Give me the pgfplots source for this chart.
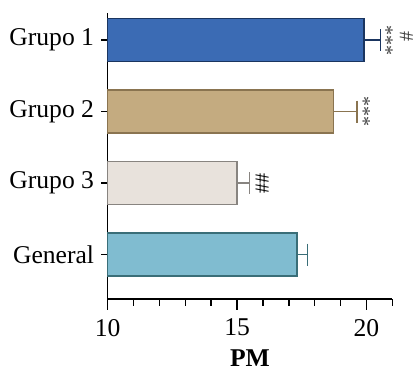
\documentclass[border=0pt]{standalone}
\usepackage{pgfplots}
\pgfplotsset{compat=1.18}
\usepackage{fontspec}
\setmainfont{Liberation Serif}
\definecolor{c1}{HTML}{3B6BB4}
\definecolor{e1}{HTML}{1A3560}
\definecolor{c2}{HTML}{C4AB80}
\definecolor{e2}{HTML}{8A7450}
\definecolor{c3}{HTML}{E8E2DC}
\definecolor{e3}{HTML}{888480}
\definecolor{c4}{HTML}{80BCD0}
\definecolor{e4}{HTML}{3A6E78}
\begin{document}
\begin{tikzpicture}
\begin{axis}[
  name=ax,
  at={(0,0)}, anchor=south west,
  scale only axis,
  width=142.3pt, height=143pt,
  xmin=10, xmax=21,
  ymin=-0.62, ymax=3.38,
  axis x line*=bottom, axis y line*=left,
  axis line style={line width=0.7pt},
  xtick={10,11,...,21},
  xticklabels={},
  extra x ticks={10,15,20},
  extra x tick labels={10,15,20},
  extra x tick style={major tick length=5.5pt},
  ytick={0,1,2,3},
  yticklabels={General,Grupo 3,Grupo 2,Grupo 1},
  tick align=outside,
  major tick length=3.3pt,
  tick style={line width=0.7pt, black},
  y tick style={draw=black, line width=0.8pt},
  /pgf/number format/assume math mode=true,
  ticklabel style={font=\fontsize{12.8}{14}\selectfont},
  xticklabel style={yshift=-1pt},
  xlabel={\textbf{PM}},
  xlabel style={font=\fontsize{12.8}{14}\selectfont, yshift=3.5pt},
  xbar, bar width=21.5pt, bar shift=0pt,
  clip=false,
  error bars/x dir=plus, error bars/x explicit,
]
\addplot[fill=c1, draw=e1, line width=0.7pt, error bars/error bar style={e1, line width=0.8pt}, error bars/error mark options={rotate=90, mark size=5.5pt, line width=0.8pt, e1}] coordinates {(19.9,3) +- (0.64,0)};
\addplot[fill=c2, draw=e2, line width=0.7pt, error bars/error bar style={e2, line width=0.8pt}, error bars/error mark options={rotate=90, mark size=5.5pt, line width=0.8pt, e2}] coordinates {(18.73,2) +- (0.91,0)};
\addplot[fill=c3, draw=e3, line width=0.7pt, error bars/error bar style={e3, line width=0.8pt}, error bars/error mark options={rotate=90, mark size=5.5pt, line width=0.8pt, e3}] coordinates {(15.0,1) +- (0.48,0)};
\addplot[fill=c4, draw=e4, line width=0.7pt, error bars/error bar style={e4, line width=0.8pt}, error bars/error mark options={rotate=90, mark size=5.5pt, line width=0.8pt, e4}] coordinates {(17.32,0) +- (0.41,0)};
\node[rotate=-90, font=\fontsize{10}{10}\selectfont, inner sep=0pt, text=black!75] at (axis cs:20.76,3) {***};
\node[rotate=-90, font=\fontsize{10}{10}\selectfont, inner sep=0pt, text=black!75] at (axis cs:21.55,3.05) {\#};
\node[rotate=-90, font=\fontsize{10}{10}\selectfont, inner sep=0pt, text=black!75] at (axis cs:19.88,2) {***};
\node[rotate=-90, font=\fontsize{10}{10}\selectfont, inner sep=0pt] at (axis cs:15.97,1) {\#\#};
\end{axis}
\pgfresetboundingbox
\path[use as bounding box] (-53.85pt,-35pt) rectangle (152.65pt,149.5pt);
\end{tikzpicture}
\end{document}
